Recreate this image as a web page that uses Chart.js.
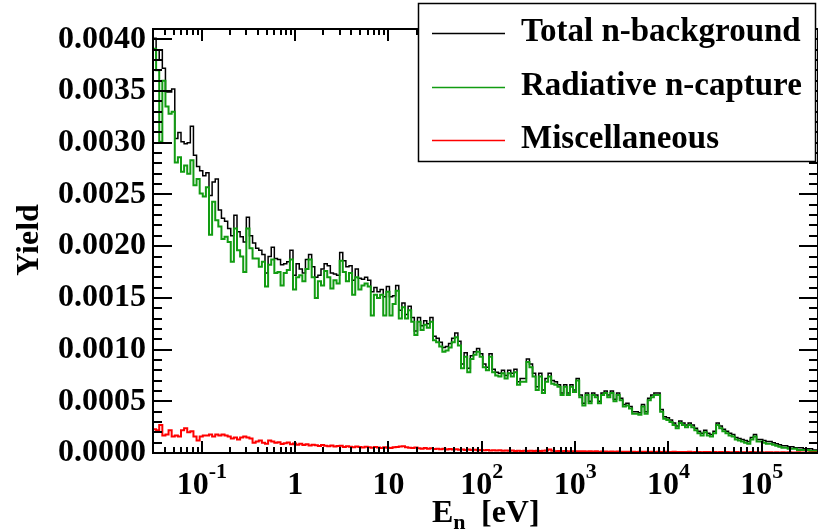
<!DOCTYPE html>
<html>
<head>
<meta charset="utf-8">
<script src="https://cdn.jsdelivr.net/npm/chart.js@4.4.1/dist/chart.umd.min.js"></script>
<style>
  html, body { margin: 0; padding: 0; background: #fff; }
  canvas { display: block; }
</style>
</head>
<body>
<canvas id="chart" width="818" height="529"></canvas>
<script>
// histogram binning (log bins in E_n)
var eMin = 0.03;
var eMax = 4e5;
var binsPerDecade = 30;

var seriesNames = ["Total n-background", "Radiative n-capture", "Miscellaneous"];
var seriesColors = ["#000000", "#129c12", "#ff0000"];

var decadeTicks = [0.1, 1, 10, 100, 1000, 10000, 100000];
var decadeLabels = [["10", "-1"], ["1", ""], ["10", ""], ["10", "2"], ["10", "3"], ["10", "4"], ["10", "5"]];
var minorFactors = [2, 3, 4, 5, 6, 7, 8, 9];

var yMax = 0.0041;
var yStep = 0.0005;
var yMinorStep = 0.0001;

var totalBg = [
  0.00401, 0.00380, 0.00390, 0.00372, 0.00349, 0.00349, 0.00352, 0.00304, 0.00310, 0.00301,
  0.00299, 0.00300, 0.00316, 0.00288, 0.00277, 0.00273, 0.00268, 0.00271, 0.00249, 0.00262,
  0.00265, 0.00235, 0.00227, 0.00224, 0.00217, 0.00210, 0.00230, 0.00214, 0.00209, 0.00204,
  0.00228, 0.00210, 0.00203, 0.00198, 0.00196, 0.00192, 0.00174, 0.00190, 0.00199, 0.00188,
  0.00187, 0.00182, 0.00183, 0.00185, 0.00196, 0.00172, 0.00183, 0.00178, 0.00174, 0.00187,
  0.00192, 0.00180, 0.00170, 0.00172, 0.00178, 0.00183, 0.00181, 0.00174, 0.00173, 0.00172,
  0.00194, 0.00186, 0.00180, 0.00181, 0.00167, 0.00178, 0.00169, 0.00168, 0.00170, 0.00167,
  0.00156, 0.00160, 0.00156, 0.00158, 0.00151, 0.00161, 0.00151, 0.00152, 0.00162, 0.00138,
  0.00145, 0.00134, 0.00142, 0.00131, 0.00118, 0.00131, 0.00123, 0.00128, 0.00125, 0.00131,
  0.00113, 0.00111, 0.00107, 0.00102, 0.00103, 0.00106, 0.00111, 0.00116, 0.00108, 0.00086,
  0.00097, 0.00082, 0.00094, 0.00098, 0.00101, 0.00096, 0.00086, 0.00083, 0.00096, 0.00081,
  0.00078, 0.00077, 0.00080, 0.00075, 0.00080, 0.00077, 0.00081, 0.00069, 0.00072, 0.00072,
  0.00091, 0.00086, 0.00077, 0.00064, 0.00077, 0.00061, 0.00072, 0.00077, 0.00070, 0.00069,
  0.00066, 0.00058, 0.00066, 0.00058, 0.00066, 0.00061, 0.00072, 0.00056, 0.00048, 0.00058,
  0.00050, 0.00058, 0.00056, 0.00050, 0.00058, 0.00060, 0.00056, 0.00060, 0.00052, 0.00058,
  0.00053, 0.00047, 0.00048, 0.00045, 0.00040, 0.00040, 0.00039, 0.00047, 0.00040, 0.00053,
  0.00056, 0.00058, 0.00058, 0.00042, 0.00035, 0.00034, 0.00032, 0.00029, 0.00026, 0.00031,
  0.00029, 0.00027, 0.00029, 0.00027, 0.00024, 0.00021, 0.00019, 0.00022, 0.00019, 0.00018,
  0.00021, 0.00029, 0.00026, 0.00023, 0.00021, 0.00019, 0.00018, 0.00015, 0.00014, 0.00013,
  0.00012, 0.00011, 0.00015, 0.00018, 0.00013, 0.00013, 0.00012, 0.00011, 0.00011, 0.00010,
  0.00009, 0.00008, 0.00007, 0.00007, 0.00006, 0.00006, 0.00005, 0.00005, 0.00005, 0.00004,
  0.00004, 0.00004, 0.00003, 0.00003
];

var radCapture = [
  0.00391, 0.00370, 0.00301, 0.00360, 0.00335, 0.00328, 0.00330, 0.00281, 0.00286, 0.00272,
  0.00278, 0.00270, 0.00283, 0.00259, 0.00265, 0.00251, 0.00248, 0.00257, 0.00211, 0.00243,
  0.00225, 0.00219, 0.00207, 0.00209, 0.00204, 0.00185, 0.00217, 0.00196, 0.00190, 0.00175,
  0.00217, 0.00198, 0.00188, 0.00188, 0.00180, 0.00185, 0.00161, 0.00182, 0.00187, 0.00174,
  0.00175, 0.00162, 0.00174, 0.00177, 0.00187, 0.00158, 0.00170, 0.00172, 0.00166, 0.00178,
  0.00187, 0.00170, 0.00150, 0.00166, 0.00162, 0.00176, 0.00170, 0.00159, 0.00167, 0.00164,
  0.00186, 0.00175, 0.00166, 0.00174, 0.00153, 0.00170, 0.00158, 0.00162, 0.00164, 0.00161,
  0.00133, 0.00153, 0.00150, 0.00153, 0.00133, 0.00156, 0.00133, 0.00144, 0.00157, 0.00130,
  0.00141, 0.00130, 0.00138, 0.00127, 0.00114, 0.00127, 0.00119, 0.00124, 0.00121, 0.00127,
  0.00109, 0.00107, 0.00103, 0.00098, 0.00099, 0.00102, 0.00107, 0.00112, 0.00104, 0.00082,
  0.00093, 0.00078, 0.00091, 0.00095, 0.00098, 0.00093, 0.00083, 0.00080, 0.00093, 0.00078,
  0.00075, 0.00074, 0.00077, 0.00072, 0.00077, 0.00074, 0.00078, 0.00066, 0.00069, 0.00069,
  0.00088, 0.00083, 0.00074, 0.00061, 0.00074, 0.00058, 0.00069, 0.00074, 0.00067, 0.00066,
  0.00064, 0.00056, 0.00064, 0.00056, 0.00064, 0.00059, 0.00070, 0.00054, 0.00046, 0.00056,
  0.00048, 0.00056, 0.00054, 0.00048, 0.00056, 0.00058, 0.00054, 0.00058, 0.00050, 0.00056,
  0.00051, 0.00045, 0.00046, 0.00043, 0.00038, 0.00038, 0.00037, 0.00045, 0.00038, 0.00051,
  0.00054, 0.00056, 0.00056, 0.00040, 0.00033, 0.00032, 0.00030, 0.00027, 0.00024, 0.00029,
  0.00027, 0.00025, 0.00027, 0.00025, 0.00022, 0.00019, 0.00017, 0.00020, 0.00017, 0.00016,
  0.00019, 0.00027, 0.00024, 0.00021, 0.00019, 0.00017, 0.00016, 0.00013, 0.00012, 0.00011,
  0.00010, 0.00009, 0.00013, 0.00016, 0.00011, 0.00011, 0.00010, 0.00009, 0.00009, 0.00008,
  0.00007, 0.00006, 0.00005, 0.00005, 0.00004, 0.00004, 0.00004, 0.00003, 0.00003, 0.00003,
  0.00003, 0.00002, 0.00002, 0.00002
];

var misc = [
  0.00023, 0.00022, 0.00027, 0.00017, 0.00018, 0.00022, 0.00016, 0.00017, 0.00016, 0.00022,
  0.00024, 0.00020, 0.00021, 0.00016, 0.00012, 0.00016, 0.00017, 0.00017, 0.00018, 0.00016,
  0.00018, 0.00017, 0.00018, 0.00017, 0.00016, 0.00014, 0.00015, 0.00013, 0.00015, 0.00016,
  0.00015, 0.00014, 0.00010, 0.00011, 0.00012, 0.00010, 0.00009, 0.00012, 0.00011, 0.00010,
  0.000105, 0.000088, 0.000095, 0.000102, 0.000085, 0.000092, 0.000080, 0.000090, 0.000078, 0.000085,
  0.000072, 0.000080, 0.000075, 0.000068, 0.000078, 0.000070, 0.000065, 0.000072, 0.000062, 0.000068,
  0.000070, 0.000058, 0.000065, 0.000060, 0.000055, 0.000062, 0.000058, 0.000052, 0.000060, 0.000055,
  0.000050, 0.000057, 0.000052, 0.000048, 0.000055, 0.000050, 0.000048, 0.000055, 0.000058, 0.000062,
  0.000065, 0.000055, 0.000050, 0.000048, 0.000052, 0.000045, 0.000042, 0.000048, 0.000040, 0.000045,
  0.000038, 0.000042, 0.000036, 0.000040, 0.000035, 0.000038, 0.000033, 0.000036, 0.000032, 0.000035,
  0.000030, 0.000033, 0.000028, 0.000031, 0.000027, 0.000030, 0.000026, 0.000028, 0.000025, 0.000027,
  0.000023, 0.000026, 0.000022, 0.000024, 0.000021, 0.000023, 0.000020, 0.000022, 0.000020, 0.000021,
  0.000020, 0.000022, 0.000019, 0.000021, 0.000020, 0.000022, 0.000024, 0.000035, 0.000022, 0.000018,
  0.000020, 0.000017, 0.000019, 0.000016, 0.000018, 0.000015, 0.000017, 0.000016, 0.000018, 0.000015,
  0.000016, 0.000014, 0.000016, 0.000013, 0.000015, 0.000014, 0.000012, 0.000015, 0.000013, 0.000014,
  0.000012, 0.000013, 0.000011, 0.000013, 0.000012, 0.000010, 0.000012, 0.000011, 0.000013, 0.000010,
  0.000011, 0.000010, 0.000012, 0.000009, 0.000011, 0.000010, 0.000009, 0.000011, 0.000010, 0.000009,
  0.000010, 0.000009, 0.000011, 0.000008, 0.000010, 0.000009, 0.000008, 0.000010, 0.000009, 0.000008,
  0.000009, 0.000008, 0.000010, 0.000008, 0.000009, 0.000008, 0.000007, 0.000009, 0.000008, 0.000007,
  0.000008, 0.000007, 0.000009, 0.000007, 0.000008, 0.000007, 0.000006, 0.000008, 0.000007, 0.000006,
  0.000007, 0.000006, 0.000008, 0.000006, 0.000007, 0.000006, 0.000005, 0.000007, 0.000006, 0.000005,
  0.000006, 0.000005, 0.000006, 0.000005
];

var FONT = '"Liberation Serif", "Times New Roman", serif';

var binEdges = [];
for (let k = 0; k <= radCapture.length; k++) {
  binEdges.push(eMin * Math.pow(10, k / binsPerDecade));
}

// step histogram: one point per lower bin edge, plus the last upper edge
function histPoints(values) {
  var pts = values.map((v, k) => ({ x: binEdges[k], y: v }));
  pts.push({ x: binEdges[values.length], y: values[values.length - 1] });
  return pts;
}

function tick(c, x1, y1, x2, y2) {
  c.beginPath();
  c.moveTo(x1, y1);
  c.lineTo(x2, y2);
  c.stroke();
}

function drawSup(c, base, sup, cx, baseline) {
  c.font = "bold 32px " + FONT;
  var w1 = c.measureText(base).width;
  c.font = "bold 22px " + FONT;
  var w2 = sup ? c.measureText(sup).width : 0;
  var x0 = cx - (w1 + w2) / 2;
  c.textAlign = "left";
  c.textBaseline = "alphabetic";
  c.font = "bold 32px " + FONT;
  c.fillText(base, x0, baseline);
  if (sup) {
    c.font = "bold 22px " + FONT;
    c.fillText(sup, x0 + w1, baseline - 16);
  }
}

// ROOT style frame: ticks inside on all four sides
function drawFrame(chart) {
  var c = chart.ctx;
  var a = chart.chartArea;
  var xs = chart.scales.x;
  var ys = chart.scales.y;
  c.save();
  c.strokeStyle = "#000000";
  c.lineWidth = 2;

  var nMinor = Math.round(yMax / yMinorStep);
  for (var i = 0; i <= nMinor; i++) {
    var py = Math.round(ys.getPixelForValue(i * yMinorStep));
    if (py < a.top + 2) continue;
    var tl = (i % 5 === 0) ? 19 : 9;
    tick(c, a.left, py, a.left + tl, py);
    tick(c, a.right, py, a.right - tl, py);
  }
  [0.01].concat(decadeTicks).forEach(function (dec) {
    [dec].concat(minorFactors.map(function (m) { return m * dec; })).forEach(function (v, j) {
      if (v < eMin || v > eMax) return;
      var px = Math.round(xs.getPixelForValue(v));
      var th = j === 0 ? 12 : 6;
      tick(c, px, a.bottom, px, a.bottom - th);
      tick(c, px, a.top, px, a.top + th);
    });
  });
  c.strokeRect(a.left, a.top, a.right - a.left, a.bottom - a.top);

  c.fillStyle = "#000000";
  decadeTicks.forEach(function (v, i) {
    drawSup(c, decadeLabels[i][0], decadeLabels[i][1], xs.getPixelForValue(v), 494);
  });

  // x title E_n [eV]
  c.font = "bold 32px " + FONT;
  c.textAlign = "left";
  c.textBaseline = "alphabetic";
  c.fillText("E", 432, 522);
  var wE = c.measureText("E").width;
  c.font = "bold 22px " + FONT;
  c.fillText("n", 432 + wE, 529);
  c.font = "bold 32px " + FONT;
  c.fillText("[eV]", 481, 522);

  // y title
  c.translate(30, 240);
  c.rotate(-Math.PI / 2);
  c.textAlign = "center";
  c.textBaseline = "middle";
  c.fillText("Yield", 0, 0);
  c.restore();
}

function drawLegend(chart) {
  var c = chart.ctx;
  c.save();
  c.fillStyle = "#ffffff";
  c.fillRect(418, 3, 398, 159);
  c.strokeStyle = "#000000";
  c.lineWidth = 1.5;
  c.strokeRect(418.5, 3.5, 397, 158);
  var rows = [41, 95, 148];
  seriesNames.forEach(function (name, i) {
    c.strokeStyle = seriesColors[i];
    c.lineWidth = 1.5;
    tick(c, 432, rows[i] - 7.5, 505, rows[i] - 7.5);
    c.fillStyle = "#000000";
    c.font = "bold 33px " + FONT;
    c.textAlign = "left";
    c.textBaseline = "alphabetic";
    c.fillText(name, 521, rows[i]);
  });
  c.restore();
}

var rootFrame = {
  id: "rootFrame",
  afterDraw: function (chart) {
    drawFrame(chart);
    drawLegend(chart);
  }
};

var canvasEl = document.getElementById("chart");
var myChart = new Chart(canvasEl, {
  type: "line",
  plugins: [rootFrame],
  data: {
    datasets: [
      { label: seriesNames[1], data: histPoints(radCapture), borderColor: seriesColors[1], borderWidth: 2, order: 1 },
      { label: seriesNames[0], data: histPoints(totalBg), borderColor: seriesColors[0], borderWidth: 1.5, order: 2 },
      { label: seriesNames[2], data: histPoints(misc), borderColor: seriesColors[2], borderWidth: 2, order: 0 }
    ]
  },
  options: {
    responsive: false,
    devicePixelRatio: 1,
    animation: false,
    layout: { padding: { top: 29, right: -1, left: 0, bottom: 0 } },
    elements: {
      line: { stepped: true, tension: 0, fill: false },
      point: { radius: 0, hoverRadius: 0 }
    },
    plugins: {
      legend: { display: false },
      tooltip: { enabled: false }
    },
    scales: {
      x: {
        type: "logarithmic",
        min: eMin,
        max: eMax,
        grid: { display: false },
        border: { display: false },
        ticks: { display: false },
        afterFit: function (s) { s.height = 76; }
      },
      y: {
        type: "linear",
        min: 0,
        max: yMax,
        grid: { display: false, drawTicks: false },
        border: { display: false },
        ticks: {
          stepSize: yStep,
          includeBounds: false,
          padding: 7,
          color: "#000",
          font: { family: FONT, weight: "bold", size: 32 },
          callback: function (v) { return Number(v).toFixed(4); }
        },
        afterFit: function (s) { s.width = 153; }
      }
    }
  }
});
</script>
</body>
</html>
